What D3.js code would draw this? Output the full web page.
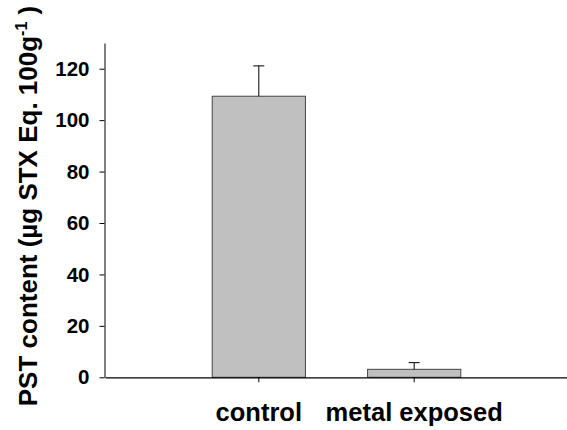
<!DOCTYPE html>
<html>
<head>
<meta charset="utf-8">
<script src="https://cdn.jsdelivr.net/npm/d3@7"></script>
<style>
  html, body { margin: 0; padding: 0; background: #fff; }
  svg { display: block; font-family: "Liberation Sans", Arial, sans-serif; font-weight: bold; }
</style>
</head>
<body>
<div id="chart"></div>
<script>
// Data
const groups = ['control', 'metal exposed'];
const means = [109.3, 3.1];
const errors = [11.8, 2.6];
const yTicks = [0, 20, 40, 60, 80, 100, 120];

const W = 567, H = 430;

const svg = d3.select('#chart').append('svg')
    .attr('width', W)
    .attr('height', H);

const x = d3.scaleBand()
    .domain(groups)
    .range([105, 568])
    .paddingInner(0.4)
    .paddingOuter(0.69);

const y = d3.scaleLinear()
    .domain([0, 130])
    .range([377.3, 43]);

// Bars
svg.selectAll('rect.bar')
    .data(groups)
  .enter().append('rect')
    .attr('class', 'bar')
    .attr('x', d => x(d))
    .attr('y', (d, i) => y(means[i]))
    .attr('width', x.bandwidth())
    .attr('height', (d, i) => y(0) - y(means[i]))
    .attr('fill', '#c0c0c0')
    .attr('stroke', '#444')
    .attr('stroke-width', 1);

// Error bars (upper only)
const err = svg.selectAll('g.err')
    .data(groups)
  .enter().append('g')
    .attr('class', 'err')
    .attr('stroke', '#000')
    .attr('stroke-width', 1);

err.append('line')
    .attr('x1', d => x(d) + x.bandwidth() / 2)
    .attr('x2', d => x(d) + x.bandwidth() / 2)
    .attr('y1', (d, i) => y(means[i]))
    .attr('y2', (d, i) => y(means[i] + errors[i]));

err.append('line')
    .attr('x1', d => x(d) + x.bandwidth() / 2 - 5.5)
    .attr('x2', d => x(d) + x.bandwidth() / 2 + 5.5)
    .attr('y1', (d, i) => y(means[i] + errors[i]))
    .attr('y2', (d, i) => y(means[i] + errors[i]));

// Y axis
const yAxis = svg.append('g')
    .attr('transform', 'translate(104.5,0)')
    .call(d3.axisLeft(y).tickValues(yTicks).tickSize(5).tickSizeOuter(0).tickPadding(10));

yAxis.select('.domain').attr('stroke', '#000');
yAxis.selectAll('.tick line').attr('stroke', '#000');
yAxis.selectAll('.tick text')
    .style('font-size', '20.5px')
    .style('font-family', '"Liberation Sans", Arial, sans-serif')
    .style('font-weight', 'bold')
    .attr('fill', '#000');

// X axis
const xAxis = svg.append('g')
    .attr('transform', `translate(0,${y(0)})`)
    .call(d3.axisBottom(x).tickSize(5).tickSizeOuter(0).tickPadding(21));

xAxis.select('.domain').attr('stroke', '#000').attr('stroke-width', 1.3);
xAxis.selectAll('.tick line').attr('stroke', '#000');
xAxis.selectAll('.tick text')
    .style('font-size', '25.5px')
    .style('font-family', '"Liberation Sans", Arial, sans-serif')
    .style('font-weight', 'bold')
    .attr('fill', '#000');

// Y axis title
const yTitle = svg.append('text')
    .attr('transform', 'translate(37,206) rotate(-90)')
    .attr('text-anchor', 'middle')
    .style('font-size', '26px')
    .attr('fill', '#000');

yTitle.append('tspan').text('PST content (µg STX Eq. 100g');
yTitle.append('tspan').attr('dy', -10).style('font-size', '16px').text('-1');
yTitle.append('tspan').attr('dy', 10).text(' )');
</script>
</body>
</html>
